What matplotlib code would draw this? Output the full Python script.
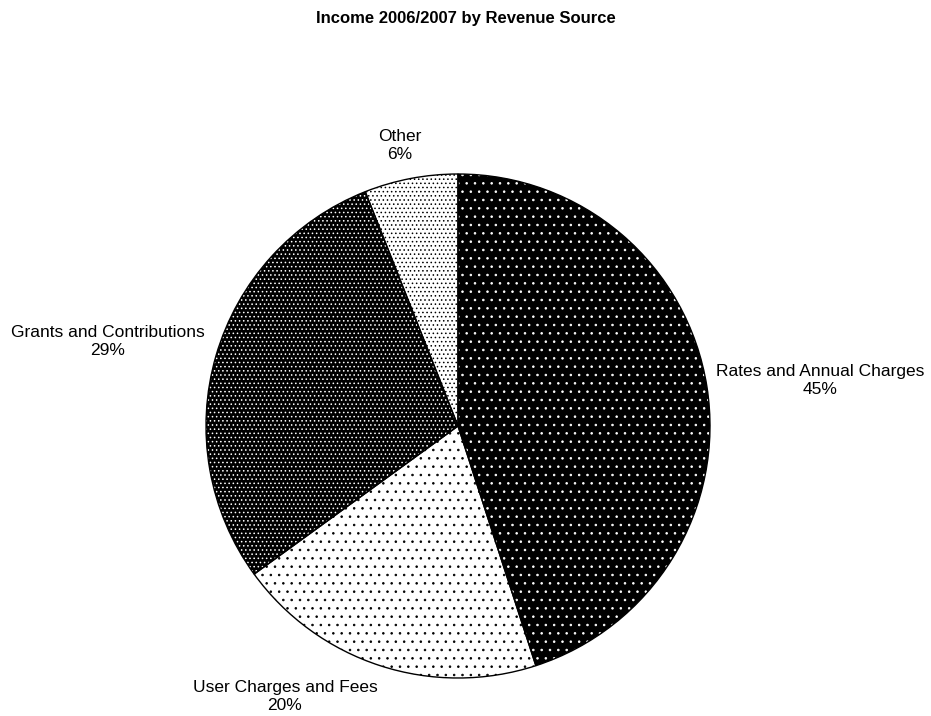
import matplotlib
matplotlib.use("Agg")
from matplotlib import pyplot as plt

title = "Income 2006/2007 by Revenue Source"
sources = ["Rates and Annual Charges", "User Charges and Fees",
           "Grants and Contributions", "Other"]
shares = [45, 20, 29, 6]

# face colour, dot colour, hatch density per wedge
faces = ["black", "white", "black", "white"]
dots = ["white", "black", "white", "black"]
hatches = ["..", "..", "....", "...."]

# label centres in data units (pie radius = 1)
label_pos = [(1.437, 0.179), (-0.687, -1.075),
             (-1.389, 0.337), (-0.23, 1.115)]

plt.rcParams["font.family"] = ["Liberation Sans", "DejaVu Sans"]
plt.rcParams["hatch.linewidth"] = 0.6

fig = plt.figure(figsize=(9.31, 7.16), dpi=100)
fig.suptitle(title, y=0.985, fontsize=12, fontweight="bold")

cx, cy, r = 458 / 931, (716 - 426) / 716, 252
ax = fig.add_axes([cx - r / 931, cy - r / 716, 2 * r / 931, 2 * r / 716])

wedges, _ = ax.pie(shares, startangle=90, counterclock=False, radius=1)
for w, fc, dc, h in zip(wedges, faces, dots, hatches):
    w.set_facecolor(fc)
    w.set_edgecolor(dc)
    w.set_hatch(h)
    w.set_linewidth(0)

# black outlines drawn on top
outl, _ = ax.pie(shares, startangle=90, counterclock=False, radius=1)
for w in outl:
    w.set_facecolor("none")
    w.set_edgecolor("black")
    w.set_linewidth(1.0)

for name, pct, (x, y) in zip(sources, shares, label_pos):
    ax.text(x, y, f"{name}\n{pct}%", ha="center", va="center",
            multialignment="center", fontsize=12.5, linespacing=1.25,
            clip_on=False)

ax.set_xlim(-1, 1)
ax.set_ylim(-1, 1)
ax.set_aspect("equal")
ax.axis("off")

fig.savefig("out.png", dpi=100)
plt.close(fig)
